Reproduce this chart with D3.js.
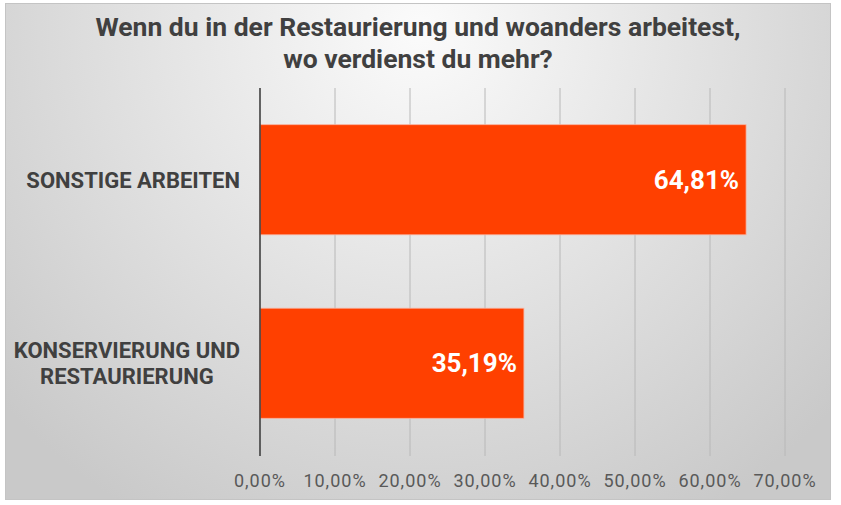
<!DOCTYPE html>
<meta charset="utf-8">
<script src="https://d3js.org/d3.v7.min.js"></script>
<style>
  body { margin: 0; background: #fff; }
  text { font-family: Roboto, "Liberation Sans", sans-serif; }
</style>
<div id="main"></div>
<script>
var width = 841
var height = 505

// data
var categories = [["SONSTIGE ARBEITEN"], ["KONSERVIERUNG UND", "RESTAURIERUNG"]]
var shares = [64.81, 35.19]
var tickValues = [0, 10, 20, 30, 40, 50, 60, 70]
var titleLines = ["Wenn du in der Restaurierung und woanders arbeitest,", "wo verdienst du mehr?"]

var svg = d3.select("#main")
  .append("svg")
    .attr("width", width)
    .attr("height", height)

// panel background with a soft radial shade
var defs = svg.append("defs")
var grad = defs.append("radialGradient")
    .attr("id", "bg")
    .attr("gradientUnits", "userSpaceOnUse")
    .attr("cx", 420).attr("cy", 30).attr("r", 560)
grad.append("stop").attr("offset", "0%").attr("stop-color", "#fbfbfb")
grad.append("stop").attr("offset", "100%").attr("stop-color", "#c9c9c9")

svg.append("rect")
    .attr("x", 5.5).attr("y", 3.5)
    .attr("width", 825).attr("height", 496)
    .attr("fill", "url(#bg)")
    .attr("stroke", "#c4c4c4")
    .attr("stroke-width", 1)

var x = d3.scaleLinear().domain([0, 70]).range([260, 785])
var y = d3.scaleBand().domain(d3.range(shares.length)).range([88, 455]).paddingInner(0.4).paddingOuter(0.2)

// gridlines
svg.append("g")
  .selectAll("line")
  .data(tickValues.slice(1))
  .enter()
  .append("line")
    .attr("x1", d => x(d)).attr("x2", d => x(d))
    .attr("y1", 88).attr("y2", 456)
    .attr("stroke", "#b8b8b8")
    .attr("stroke-width", 1)

// bars
svg.append("g")
  .selectAll("rect")
  .data(shares)
  .enter()
  .append("rect")
    .attr("x", x(0))
    .attr("y", (d, i) => y(i))
    .attr("width", d => x(d) - x(0))
    .attr("height", y.bandwidth())
    .attr("fill", "#ff4000")
    .attr("stroke", "#f8b3a0")
    .attr("stroke-width", 0.8)

// value labels
svg.append("g")
  .selectAll("text")
  .data(shares)
  .enter()
  .append("text")
    .attr("x", d => x(d) - 7)
    .attr("y", (d, i) => y(i) + y.bandwidth() / 2 + 9)
    .attr("text-anchor", "end")
    .attr("fill", "#ffffff")
    .attr("font-weight", "bold")
    .attr("font-size", "26px")
    .text(d => d.toFixed(2).replace(".", ",") + "%")

// axis line
svg.append("line")
    .attr("x1", x(0)).attr("x2", x(0))
    .attr("y1", 88).attr("y2", 456)
    .attr("stroke", "#404040")
    .attr("stroke-width", 1.6)

// tick labels
svg.append("g")
  .selectAll("text")
  .data(tickValues)
  .enter()
  .append("text")
    .attr("x", d => x(d))
    .attr("y", 487)
    .attr("text-anchor", "middle")
    .attr("fill", "#595959")
    .attr("font-size", "18px")
    .attr("letter-spacing", "1px")
    .text(d => d.toFixed(2).replace(".", ",") + "%")

// category labels, lines centred within the block, block right-aligned
categories.forEach(function(lines, i) {
  var g = svg.append("g")
  var texts = lines.map(function(l) {
    return g.append("text")
      .attr("fill", "#404040")
      .attr("font-weight", "bold")
      .attr("font-size", "22px")
      .attr("text-anchor", "middle")
      .text(l)
  })
  var maxW = d3.max(texts, t => t.node().getComputedTextLength())
  var cx = 240 - maxW / 2
  var lh = 26
  var cy = y(i) + y.bandwidth() / 2 - (lines.length - 1) * lh / 2 + 8
  texts.forEach(function(t, k) {
    t.attr("x", cx).attr("y", cy + k * lh)
  })
})

// title
svg.append("g")
  .selectAll("text")
  .data(titleLines)
  .enter()
  .append("text")
    .attr("x", 418)
    .attr("y", (d, i) => 36 + i * 32)
    .attr("text-anchor", "middle")
    .attr("fill", "#404040")
    .attr("font-weight", "bold")
    .attr("font-size", "26.5px")
    .text(d => d)
</script>
